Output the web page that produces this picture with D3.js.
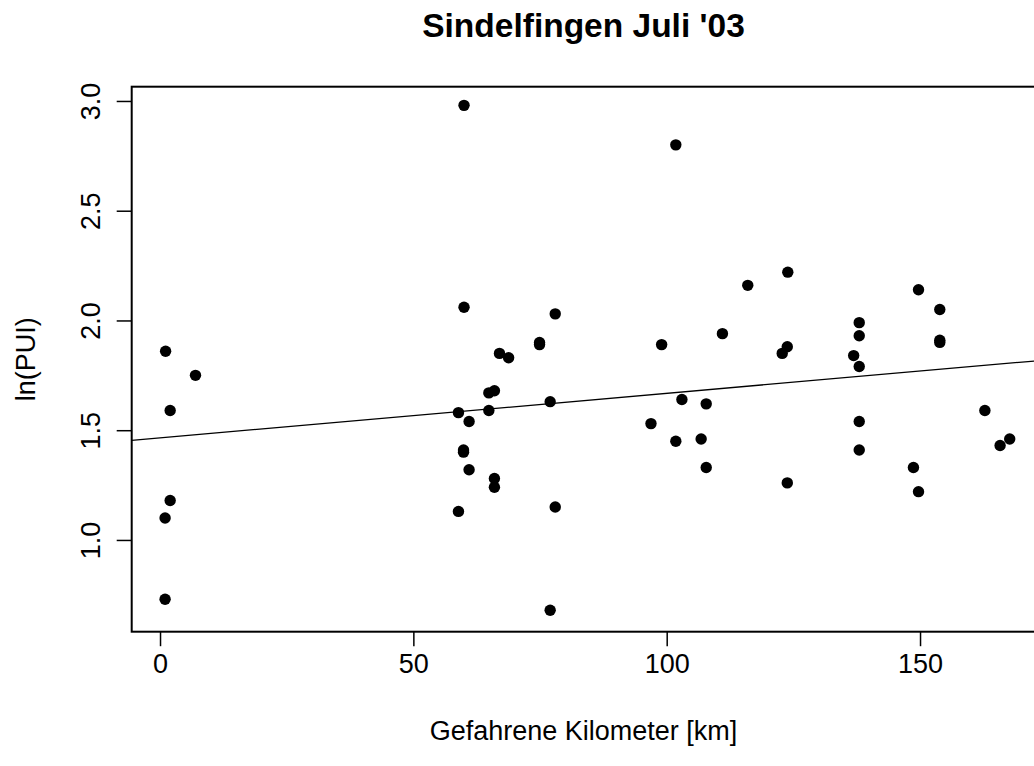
<!DOCTYPE html>
<html>
<head>
<meta charset="utf-8">
<script src="https://cdn.jsdelivr.net/npm/d3@7"></script>
<style>
  body { margin: 0; background: #fff; }
  svg { display: block; font-family: "Liberation Sans", Arial, sans-serif; }
</style>
</head>
<body>
<div id="container"></div>
<script>
let w = 1034;
let h = 766;

// gefahrene km per fahrt
let km = [1.1, 7.0, 2.0, 2.0, 1.0, 1.0,
  60.0, 60.0, 78.0, 74.9, 74.9, 67.0, 68.8, 66.0, 64.9, 77.0, 58.9, 64.9, 61.0,
  59.9, 59.9, 61.0, 66.0, 66.0, 58.9, 78.0, 77.0,
  101.8, 99.0, 96.9, 103.0, 101.8, 107.8, 106.8, 107.8, 111.0, 116.0, 123.9,
  122.8, 123.8, 123.8, 138.0, 138.0, 136.9, 138.0, 138.0, 138.0, 149.7, 153.9,
  153.9, 153.9, 148.7, 149.7, 162.8, 165.8, 167.7];

// ln(PUI)
let lnPUI = [1.86, 1.75, 1.59, 1.18, 1.10, 0.73,
  2.98, 2.06, 2.03, 1.90, 1.89, 1.85, 1.83, 1.68, 1.67, 1.63, 1.58, 1.59, 1.54,
  1.41, 1.40, 1.32, 1.28, 1.24, 1.13, 1.15, 0.68,
  2.80, 1.89, 1.53, 1.64, 1.45, 1.62, 1.46, 1.33, 1.94, 2.16, 2.22,
  1.85, 1.88, 1.26, 1.99, 1.93, 1.84, 1.79, 1.54, 1.41, 2.14, 2.05,
  1.91, 1.90, 1.33, 1.22, 1.59, 1.43, 1.46];

// regression line (abline)
let fit = [1.465, 0.00203];

let xTicks = [0, 50, 100, 150];
let yTicks = [1.0, 1.5, 2.0, 2.5, 3.0];

let pL = 131.7, pR = 1035.3, pT = 86.7, pB = 631.7;

let x = d3.scaleLinear().domain([-5.59, 172.75]).range([pL, pR]);
let y = d3.scaleLinear().domain([0.582, 3.065]).range([pB, pT]);

let viz = d3.select('#container').append('svg')
    .attr('width', w)
    .attr('height', h);

viz.append('rect')
    .attr('width', w)
    .attr('height', h)
    .attr('fill', 'white');

viz.append('clipPath')
    .attr('id', 'plotclip')
  .append('rect')
    .attr('x', pL)
    .attr('y', pT)
    .attr('width', pR - pL)
    .attr('height', pB - pT);

// title
viz.append('text')
    .text("Sindelfingen Juli '03")
    .attr('x', (pL + pR) / 2)
    .attr('y', 37)
    .attr('text-anchor', 'middle')
    .attr('font-weight', 'bold')
    .attr('font-size', '33.5px');

// axes
let xAxis = viz.append('g')
    .attr('transform', `translate(0,${pB})`)
    .call(d3.axisBottom(x).tickValues(xTicks).tickSize(14.5).tickFormat(d3.format('d')));
xAxis.select('.domain').remove();
xAxis.selectAll('line').attr('stroke', '#000').attr('stroke-width', 1.5);
xAxis.selectAll('text')
    .attr('y', 41)
    .attr('dy', null)
    .attr('fill', '#000')
    .attr('font-size', '27px')
    .attr('font-family', '"Liberation Sans", Arial, sans-serif');

let yAxis = viz.append('g')
    .attr('transform', `translate(${pL},0)`)
    .call(d3.axisLeft(y).tickValues(yTicks).tickSize(15).tickFormat(d3.format('.1f')));
yAxis.select('.domain').remove();
yAxis.selectAll('line').attr('stroke', '#000').attr('stroke-width', 1.5);
yAxis.selectAll('text')
    .attr('x', null)
    .attr('dy', null)
    .attr('transform', 'translate(-32,0) rotate(-90)')
    .attr('text-anchor', 'middle')
    .attr('fill', '#000')
    .attr('font-size', '27px')
    .attr('font-family', '"Liberation Sans", Arial, sans-serif');

// axis titles
viz.append('text')
    .text('Gefahrene Kilometer [km]')
    .attr('x', (pL + pR) / 2)
    .attr('y', 740)
    .attr('text-anchor', 'middle')
    .attr('font-size', '27px');

viz.append('text')
    .text('ln(PUI)')
    .attr('transform', `translate(35,${(pT + pB) / 2}) rotate(-90)`)
    .attr('text-anchor', 'middle')
    .attr('font-size', '27px');

// points
let plot = viz.append('g').attr('clip-path', 'url(#plotclip)');

plot.selectAll('circle')
    .data(km)
    .enter()
    .append('circle')
    .attr('cx', d => x(d))
    .attr('cy', (d, i) => y(lnPUI[i]))
    .attr('r', 5.7)
    .attr('fill', 'black');

let xd = x.domain();
plot.append('line')
    .attr('x1', x(xd[0]))
    .attr('y1', y(fit[0] + fit[1] * xd[0]))
    .attr('x2', x(xd[1]))
    .attr('y2', y(fit[0] + fit[1] * xd[1]))
    .attr('stroke', 'black')
    .attr('stroke-width', 1.3);

// box
viz.append('rect')
    .attr('x', pL)
    .attr('y', pT)
    .attr('width', pR - pL)
    .attr('height', pB - pT)
    .attr('fill', 'none')
    .attr('stroke', 'black')
    .attr('stroke-width', 2);
</script>
</body>
</html>
